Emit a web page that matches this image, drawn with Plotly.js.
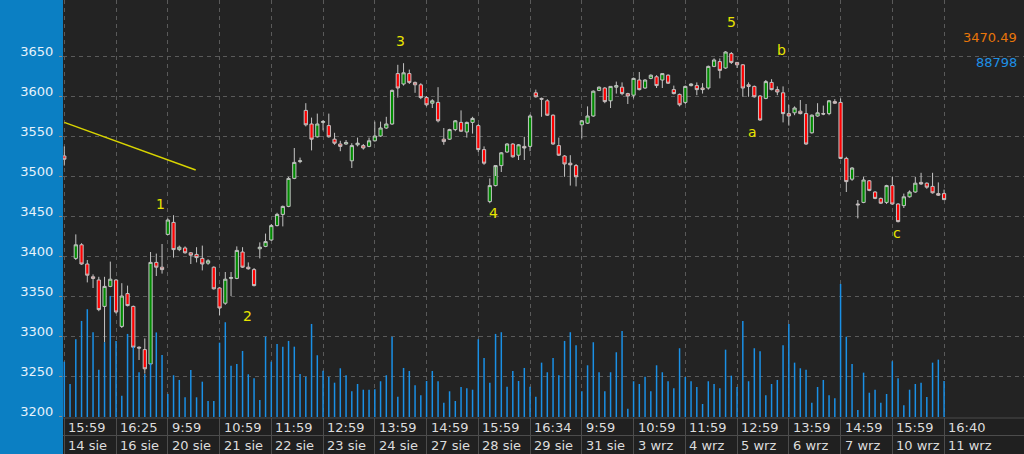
<!DOCTYPE html>
<html><head><meta charset="utf-8">
<script src="https://cdn.plot.ly/plotly-3.0.1.min.js"></script>
<style>html,body{margin:0;padding:0;background:#0b7fc3;}#chart{width:1024px;height:454px;}</style>
</head><body><div id="chart"></div>
<script>
// ---- data (hourly bars, index 0..153) ----
const openP = [
 3525,null,3397,3414,3390,3374,3370,3337,3362,3370,
 3312,3353,3337,3286,3283,3265,3392,3386,3427,3442,
 3408,3410,3404,3402,3397,3391,3386,3360,3341,3372,
 3372,3405,3386,3383,3409,3412,3420,3438,3452,3462,
 3497,3518,3582,3565,3549,3567,3563,3546,3540,3540,
 3519,3539,3538,3537,3544,3550,3560,3565,3628,3615,
 3628,3617,3614,3598,3591,3592,3546,3546,3558,3567,
 3555,3567,3563,3533,3468,3488,3513,3530,3540,3526,
 3537,3537,3604,3597,3594,3576,3538,3525,3516,3513,
 3564,3566,3575,3607,3610,3594,3611,3611,3603,3601,
 3620,3610,3622,3624,3620,3626,3608,3602,3592,3613,
 3613,3610,3610,3637,3643,3635,3653,3642,3639,3614,
 3612,3600,3597,3617,3608,3604,3578,3579,3581,3578,
 3554,3575,3578,3578,3593,3592,3522,3496,3465,3467,
 3494,3480,3472,3467,3488,3465,3463,3474,3480,3492,
 3491,3487,3478,3478];
const highP = [
 3537,null,3427,3416,3395,3377,3374,3374,3393,3371,
 3366,3363,3338,3287,3297,3405,3403,3415,3447,3451,
 3413,3412,3405,3411,3413,3396,3387,3361,3380,3380,
 3412,3411,3392,3385,3417,3428,3440,3454,3463,3499,
 3535,3523,3591,3573,3578,3570,3578,3554,3544,3545,
 3541,3548,3540,3548,3568,3568,3574,3608,3639,3641,
 3633,3618,3616,3600,3596,3611,3560,3559,3570,3582,
 3568,3574,3565,3537,3497,3500,3530,3541,3541,3540,
 3549,3577,3608,3598,3596,3577,3548,3526,3526,3515,
 3570,3587,3607,3612,3611,3612,3618,3617,3604,3623,
 3630,3621,3627,3626,3628,3627,3613,3603,3613,3616,
 3617,3616,3638,3647,3647,3656,3655,3642,3640,3617,
 3613,3601,3620,3621,3612,3612,3589,3587,3595,3590,
 3577,3591,3588,3595,3596,3597,3524,3511,3470,3499,
 3495,3481,3473,3489,3499,3466,3478,3482,3499,3504,
 3492,3504,3492,3483];
const lowP = [
 3513,null,3395,3389,3367,3360,3331,3292,3361,3328,
 3310,3337,3285,3270,3253,3263,3375,3378,3426,3398,
 3406,3403,3390,3392,3382,3389,3358,3326,3339,3350,
 3371,3385,3383,3362,3397,3411,3419,3437,3437,3461,
 3496,3516,3562,3532,3548,3557,3548,3539,3531,3539,
 3510,3537,3533,3536,3543,3549,3559,3564,3598,3613,
 3615,3604,3596,3587,3585,3567,3539,3545,3556,3555,
 3548,3553,3530,3514,3466,3487,3505,3529,3523,3520,
 3520,3531,3598,3574,3575,3539,3525,3499,3488,3487,
 3547,3565,3574,3606,3591,3585,3603,3601,3590,3597,
 3607,3609,3621,3610,3610,3615,3602,3587,3590,3612,
 3601,3603,3608,3636,3622,3634,3640,3635,3599,3599,
 3598,3569,3596,3607,3601,3567,3563,3576,3577,3539,
 3553,3574,3576,3576,3590,3521,3480,3494,3447,3466,
 3481,3471,3465,3465,3464,3442,3460,3473,3479,3489,
 3484,3478,3475,3470];
const closeP = [
 3521,null,3414,3390,3376,3372,3333,3362,3371,3330,
 3350,3338,3286,3285,3259,3392,3386,3383,3445,3408,
 3411,3404,3401,3398,3390,3394,3359,3335,3371,3373,
 3407,3386,3384,3363,3411,3418,3438,3452,3462,3497,
 3517,3519,3564,3546,3565,3568,3549,3541,3537,3542,
 3538,3541,3535,3544,3550,3560,3565,3607,3610,3629,
 3617,3614,3598,3589,3594,3569,3543,3558,3569,3556,
 3567,3572,3533,3516,3488,3513,3529,3540,3524,3539,
 3535,3575,3599,3596,3576,3540,3526,3515,3514,3499,
 3569,3575,3606,3611,3593,3612,3613,3603,3600,3622,
 3608,3620,3626,3613,3628,3616,3603,3589,3612,3615,
 3608,3608,3637,3645,3632,3655,3642,3639,3610,3612,
 3599,3570,3618,3608,3605,3578,3575,3585,3578,3540,
 3576,3579,3577.5,3594,3591,3522,3493,3510,3464,3495,
 3482,3472,3466,3488,3465,3443,3474,3480,3491,3490,
 3486,3479,3476,3470.49];
const volume = [
 136400,81400,191700,236800,265700,209000,116700,184300,298500,187500,
 52500,204800,173400,110300,106100,133200,208500,153000,56700,102900,
 91300,48600,115900,48600,87100,39500,39500,183300,233600,126600,
 130800,162800,105300,95500,41900,198100,136400,180100,173400,187500,
 173400,106100,99400,229400,152200,114200,99400,84600,120100,102900,
 63400,81400,67300,67300,68300,88100,102900,198100,50100,120900,
 113500,78200,53500,88800,113500,88100,35300,63400,39500,74000,
 70800,67300,191700,145600,84600,204800,209000,74700,113500,88800,
 120900,74700,50100,134000,110300,145600,102900,187500,209000,176900,
 63400,127500,184300,110300,63400,110300,159600,212200,20500,88100,
 81400,99400,63400,127500,110300,88100,70800,169500,98700,88100,
 74000,32100,88100,81400,70800,166000,101900,74000,236800,88100,
 169500,162100,53500,81400,91300,176900,229400,134000,120100,116700,
 35300,74000,91300,53500,46100,328100,198100,130800,17300,109300,
 59900,67300,35300,56700,137400,95500,28900,67300,81400,84600,
 49300,134000,141400,88798];
const barIndex = volume.map((v, i) => i);

const labelBars = [0,9,18,27,36,45,54,63,72,81,90,99,108,117,126,135,144,153];
const timeLabels = ['15:59','16:25','9:59','10:59','11:59','12:59','13:59','14:59','15:59','16:34','9:59','10:59','11:59','12:59','13:59','14:59','15:59','16:40'];
const dateLabels = ['14 sie','16 sie','20 sie','21 sie','22 sie','23 sie','24 sie','27 sie','28 sie','29 sie','31 sie','3 wrz','4 wrz','5 wrz','6 wrz','7 wrz','10 wrz','11 wrz'];
const priceTicks = [3200,3250,3300,3350,3400,3450,3500,3550,3600,3650];

const waveText = ['1','2','3','4','5','a','b','c'];
const waveX = [16.8, 31.9, 58.4, 74.6, 116.1, 119.6, 124.8, 144.8];
const waveY = [3465, 3325, 3669, 3454, 3692, 3555, 3657, 3429];

const trendX = [0, 22.85];
const trendY = [3567, 3507.5];

// ---- styling ----
const FONT = 'DejaVu Sans, Verdana, sans-serif';
const GRID = '#5a5a5a';
const DASH = '4px,4px';

const traces = [
  { type: 'bar', x: barIndex, y: volume, yaxis: 'y2', width: 0.26,
    marker: { color: '#1a90e6', line: { width: 0 } }, hoverinfo: 'skip', showlegend: false },
  { type: 'candlestick', x: barIndex, open: openP, high: highP, low: lowP, close: closeP,
    whiskerwidth: 0, showlegend: false, hoverinfo: 'skip',
    increasing: { fillcolor: '#008a00', line: { color: '#c4c4c4', width: 1 } },
    decreasing: { fillcolor: '#ff0000', line: { color: '#c4c4c4', width: 1 } } },
  { type: 'scatter', mode: 'lines', x: trendX, y: trendY, showlegend: false, hoverinfo: 'skip',
    line: { color: '#d8d400', width: 1.5 } }
];

const annotations = [];
waveText.forEach((t, k) => annotations.push({
  xref: 'x', yref: 'y', x: waveX[k], y: waveY[k], text: t, showarrow: false,
  font: { family: FONT, size: 14, color: '#e8e400' }
}));
labelBars.forEach((b, k) => {
  annotations.push({ xref: 'x', yref: 'paper', x: b, y: 0, xanchor: 'left', yanchor: 'middle',
    xshift: 2, yshift: -10, text: timeLabels[k], showarrow: false,
    font: { family: FONT, size: 13, color: '#dcdcdc' } });
  annotations.push({ xref: 'x', yref: 'paper', x: b, y: 0, xanchor: 'left', yanchor: 'middle',
    xshift: 2, yshift: -28, text: dateLabels[k], showarrow: false,
    font: { family: FONT, size: 13, color: '#dcdcdc' } });
});
const last = closeP.length - 1;
annotations.push({ xref: 'paper', yref: 'paper', x: 1, y: 1, xanchor: 'right', yanchor: 'middle',
  xshift: -5, yshift: -37.5, text: closeP[last].toFixed(2), showarrow: false,
  font: { family: FONT, size: 13, color: '#e8760a' } });
annotations.push({ xref: 'paper', yref: 'paper', x: 1, y: 1, xanchor: 'right', yanchor: 'middle',
  xshift: -5, yshift: -62.5, text: String(volume[last]), showarrow: false,
  font: { family: FONT, size: 13, color: '#1e90e6' } });

const plotH = 417;
const shapes = [
  { type: 'rect', xref: 'paper', yref: 'paper', x0: 0, x1: 1, y0: -37 / plotH, y1: 0,
    fillcolor: '#202020', line: { width: 0 }, layer: 'below' },
  { type: 'line', xref: 'paper', yref: 'paper', x0: 0, x1: 1, y0: -18.5 / plotH, y1: -18.5 / plotH,
    line: { color: '#4c4c4c', width: 1 } },
  { type: 'line', xref: 'paper', yref: 'paper', x0: 0, x1: 1, y0: -1 / plotH, y1: -1 / plotH,
    line: { color: '#4c4c4c', width: 1 } }
];

const layout = {
  width: 1024, height: 454,
  margin: { l: 63, r: 0, t: 0, b: 37, pad: 0 },
  paper_bgcolor: '#0b7fc3', plot_bgcolor: '#232323',
  boxgap: 0.2,
  showlegend: false,
  xaxis: { range: [-0.226, 166.9], tickmode: 'array', tickvals: labelBars, showticklabels: false,
    ticks: 'outside', ticklen: 37, tickwidth: 1, tickcolor: '#4c4c4c',
    showgrid: true, gridcolor: GRID, griddash: DASH, gridwidth: 1,
    zeroline: false, showline: false, rangeslider: { visible: false }, fixedrange: true },
  yaxis: { range: [3198.75, 3720], tickmode: 'array', tickvals: priceTicks,
    ticks: 'outside', ticklen: 3, tickcolor: '#8a8a8a',
    ticklabelshift: -5, ticklabelstandoff: 3,
    showgrid: true, gridcolor: GRID, griddash: DASH, gridwidth: 1,
    zeroline: false, showline: false, fixedrange: true,
    tickfont: { family: FONT, size: 13, color: '#e6f2fb' } },
  yaxis2: { overlaying: 'y', range: [0, 1028000], visible: false, fixedrange: true },
  annotations: annotations,
  shapes: shapes
};

Plotly.newPlot('chart', traces, layout, { staticPlot: true, displayModeBar: false });
</script>
</body></html>
